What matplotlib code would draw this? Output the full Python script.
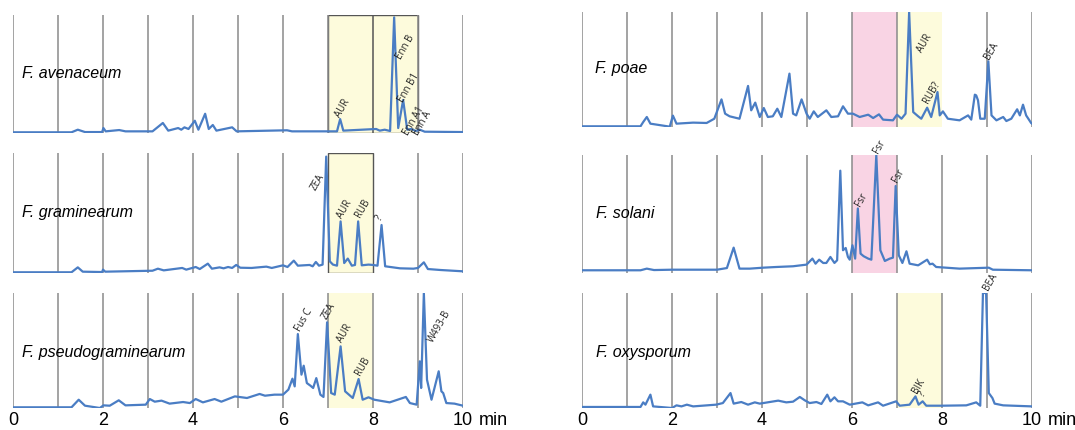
import matplotlib
matplotlib.use('Agg')
import matplotlib.pyplot as plt
from matplotlib.patches import Rectangle

# chromatogram traces: (retention time in min, relative intensity in % of panel height)
avenaceum = [(0, 0.6), (1.3, 0.6), (1.44, 2.8), (1.6, 0.8), (1.98, 0.8), (2.01, 4.2), (2.06, 1.4),
             (2.36, 2.5), (2.5, 1.4), (3.1, 1.4), (3.33, 8.5), (3.45, 2), (3.67, 4.2), (3.74, 2.8),
             (3.81, 4.8), (3.9, 3.4), (4.04, 10.4), (4.12, 2.8), (4.27, 16.3), (4.35, 3.4), (4.44, 6.8),
             (4.52, 2), (4.87, 4.8), (4.97, 1.4), (6.09, 2.3), (6.2, 1.4), (7.2, 1.4), (7.27, 11.8),
             (7.34, 2), (8.07, 3.4), (8.15, 2), (8.26, 2.8), (8.38, 1.7), (8.47, 98), (8.56, 4.2),
             (8.67, 28), (8.76, 2.8), (8.85, 3.4), (8.95, 1.7), (9.04, 2.8), (9.15, 1.1), (10, 0.8)]

graminearum = [(0, 0.6), (1.3, 0.6), (1.44, 4.7), (1.55, 1.1), (1.98, 0.8), (2.0, 2.8), (2.05, 1.1),
               (3.1, 1.9), (3.22, 3.6), (3.35, 2.2), (3.76, 4.2), (3.85, 2.8), (4.06, 5), (4.15, 3.3),
               (4.33, 7.8), (4.42, 3.6), (4.59, 4.7), (4.68, 3.9), (4.78, 5), (4.87, 4.2), (4.96, 6.7),
               (5.05, 4.4), (5.3, 4.2), (5.63, 5.3), (5.75, 4.2), (6.0, 6.4), (6.1, 5), (6.24, 10.3),
               (6.33, 6.1), (6.59, 6.7), (6.66, 5.6), (6.73, 9.2), (6.8, 6.1), (6.88, 7), (6.96, 97),
               (7.04, 9.7), (7.11, 7), (7.2, 6.1), (7.28, 43), (7.36, 8.3), (7.44, 12), (7.53, 6.1),
               (7.6, 6.7), (7.67, 43), (7.75, 6.4), (7.9, 7), (8.0, 6.7), (8.1, 6.1), (8.19, 40),
               (8.27, 5.6), (8.6, 3.9), (8.9, 3.6), (9.0, 4.2), (9.13, 8.9), (9.22, 3.3), (9.5, 2.5),
               (10, 1.4)]

pseudograminearum = [(0, 0.6), (1.3, 0.6), (1.46, 7.2), (1.6, 2), (1.93, 0), (2.01, 2.3), (2.15, 2),
                     (2.35, 6.7), (2.5, 2.3), (2.95, 2.9), (3.04, 7.8), (3.15, 5.5), (3.3, 6.4),
                     (3.48, 3.8), (3.78, 5.2), (3.93, 4.3), (4.06, 7.8), (4.22, 4.9), (4.48, 7.8),
                     (4.63, 5.5), (4.93, 10.1), (5.2, 8.7), (5.48, 12.2), (5.6, 10.7), (5.81, 11.6),
                     (6.0, 11.6), (6.12, 16), (6.21, 25.5), (6.26, 18.8), (6.33, 64.3), (6.41, 29),
                     (6.46, 36.8), (6.53, 21.7), (6.61, 19.4), (6.67, 17.4), (6.74, 26), (6.83, 11.6),
                     (6.9, 9.6), (6.98, 74.5), (7.07, 13), (7.15, 11.6), (7.28, 53.6), (7.38, 14.5),
                     (7.55, 8.7), (7.68, 25.2), (7.77, 7.2), (7.9, 9.3), (8.03, 7.2), (8.37, 4.9),
                     (8.73, 9.6), (8.82, 4.3), (8.97, 2.9), (9.04, 40.6), (9.07, 17.4), (9.13, 100),
                     (9.2, 24.6), (9.3, 7.2), (9.46, 31.9), (9.52, 14.5), (9.56, 13), (9.63, 4.3),
                     (9.81, 3.8), (10, 2)]

poae = [(0, 0.6), (1.3, 0.6), (1.36, 4.3), (1.44, 8.7), (1.52, 2.9), (1.95, 0.3), (2.02, 9.9),
        (2.1, 2.9), (2.47, 3.8), (2.77, 3.5), (2.94, 7.2), (3.1, 24), (3.18, 11.6), (3.28, 9.3),
        (3.5, 7.2), (3.69, 35.7), (3.76, 14.5), (3.85, 21.2), (3.95, 8.7), (4.04, 16.5), (4.13, 8.7),
        (4.24, 9.3), (4.34, 15.9), (4.43, 8.7), (4.61, 46.4), (4.69, 11.6), (4.76, 10.1), (4.88, 24),
        (4.99, 11.6), (5.06, 7.2), (5.15, 13.6), (5.24, 8.7), (5.43, 14.5), (5.54, 8.7), (5.69, 9.3),
        (5.8, 18), (5.91, 11.6), (6.02, 11.6), (6.17, 8.7), (6.36, 10.7), (6.47, 7.8), (6.6, 11),
        (6.69, 6.4), (6.91, 5.8), (7.0, 10.7), (7.1, 7.2), (7.19, 11.6), (7.27, 100), (7.36, 13),
        (7.47, 9.3), (7.54, 7.2), (7.67, 16.8), (7.76, 8.7), (7.9, 30.4), (7.95, 10.1), (8.02, 13.6),
        (8.13, 7.2), (8.39, 5.8), (8.58, 10.1), (8.65, 6.4), (8.73, 28.1), (8.76, 27.5), (8.8, 23.2),
        (8.85, 7.2), (8.95, 7.2), (9.03, 57.1), (9.1, 10.1), (9.21, 5.8), (9.36, 8.7), (9.43, 5.2),
        (9.54, 7.2), (9.67, 15.4), (9.73, 10.1), (9.8, 19.4), (9.87, 10.1), (9.98, 3.5), (10, 2.9)]

solani = [(0, 2.3), (1.3, 2.3), (1.44, 3.7), (1.6, 2.5), (2.0, 2.8), (3.0, 2.8), (3.22, 4.2),
          (3.37, 21.5), (3.5, 3.7), (3.73, 3.7), (4.02, 4.5), (4.32, 5.1), (4.69, 5.7), (4.99, 7.1),
          (5.12, 12.2), (5.19, 7.9), (5.27, 11.3), (5.36, 8.5), (5.43, 8.5), (5.52, 13.6), (5.61, 8.5),
          (5.67, 10.8), (5.74, 86.7), (5.8, 19.3), (5.86, 21.2), (5.91, 13.6), (5.95, 11.3),
          (6.01, 23.5), (6.07, 12.2), (6.13, 54.7), (6.19, 16.4), (6.26, 14.2), (6.36, 12.2),
          (6.43, 11.3), (6.54, 100), (6.63, 19.3), (6.73, 10.2), (6.84, 12.2), (6.91, 13),
          (6.97, 73.7), (7.04, 15), (7.12, 8.5), (7.21, 18.4), (7.28, 7.9), (7.47, 6.5), (7.67, 11.3),
          (7.73, 7.4), (7.79, 7.9), (7.87, 5.1), (8.39, 3.7), (9.04, 4.5), (9.13, 2.8), (10, 2.3)]

oxysporum = [(0, 0.9), (1.3, 0.9), (1.36, 4.9), (1.41, 2.9), (1.52, 11.6), (1.58, 1.4), (2.0, 0),
             (2.1, 2.3), (2.21, 1.4), (2.33, 2.9), (2.47, 1.4), (2.98, 2.9), (3.13, 4.3), (3.3, 13),
             (3.37, 3.8), (3.54, 5.2), (3.69, 2.9), (3.84, 4.9), (3.95, 3.8), (4.36, 6.4), (4.54, 4.9),
             (4.69, 5.5), (4.84, 9.6), (4.95, 6.7), (5.06, 4.3), (5.21, 5.2), (5.32, 3.5), (5.45, 11.6),
             (5.52, 5.8), (5.61, 9.3), (5.69, 5.8), (5.8, 5.8), (5.95, 2.9), (6.23, 4.9), (6.36, 2.3),
             (6.58, 4.9), (6.69, 2), (6.98, 5.8), (7.06, 2), (7.28, 2.9), (7.41, 10.1), (7.48, 2.9),
             (7.57, 5.8), (7.65, 2), (8.0, 2), (8.54, 2.3), (8.76, 4.9), (8.85, 2), (8.91, 100),
             (8.98, 100), (9.04, 13), (9.12, 8.7), (9.17, 3.8), (9.36, 2.3), (10, 1.4)]

# peak annotations: (label, time, height)
avenaceum_peaks = [("AUR", 7.33, 21), ("Enn B", 8.73, 73), ("Enn B1", 8.8, 38),
                   ("Enn A1", 8.91, 10.5), ("Enn A", 9.09, 8.5)]
graminearum_peaks = [("ZEA", 6.78, 76), ("AUR", 7.36, 53), ("RUB", 7.78, 54), ("?", 8.15, 46)]
pseudograminearum_peaks = [("Fus C", 6.47, 76), ("ZEA", 7.02, 84), ("AUR", 7.38, 65),
                           ("RUB", 7.78, 36), ("W493-B", 9.47, 71)]
poae_peaks = [("AUR", 7.62, 73), ("RUB?", 7.78, 30), ("BEA", 9.09, 66)]
solani_peaks = [("Fsr", 6.2, 62), ("Fsr", 6.6, 107), ("Fsr", 7.02, 82)]
oxysporum_peaks = [("BIK", 7.47, 19), ("?", 7.58, 12), ("BEA", 9.07, 110)]

minutes = list(range(11))
tick_minutes = [0, 2, 4, 6, 8, 10]

YELLOW = '#fdfbdc'
PINK = '#f9d4e4'
BLUE = '#4a7dc4'
GREY = '#8a8a8a'

W, H = 1075, 430
fig = plt.figure(figsize=(W / 100, H / 100), dpi=100)

# name, trace, peaks, grid minutes, shaded boxes (start, end, colour, framed), axes box px, name pos px
panels = [
    ("F. avenaceum", avenaceum, avenaceum_peaks, minutes,
     [(7, 9, YELLOW, True)], (13, 15, 463, 133), (22, 74)),
    ("F. graminearum", graminearum, graminearum_peaks, [0, 1, 2, 3, 4, 5, 6, 9, 10],
     [(7, 8, YELLOW, True)], (13, 153, 463, 273), (22, 213)),
    ("F. pseudograminearum", pseudograminearum, pseudograminearum_peaks, minutes,
     [(7, 8, YELLOW, False)], (13, 293, 463, 408), (22, 352)),
    ("F. poae", poae, poae_peaks, [0, 1, 2, 3, 4, 5, 6, 7, 9, 10],
     [(6, 7, PINK, False), (7, 8, YELLOW, False)], (582, 12, 1032, 127), (595, 69)),
    ("F. solani", solani, solani_peaks, minutes,
     [(6, 7, PINK, False)], (582, 155, 1032, 273), (596, 213)),
    ("F. oxysporum", oxysporum, oxysporum_peaks, minutes,
     [(7, 8, YELLOW, False)], (582, 293, 1032, 408), (596, 353)),
]

for i, (name, trace, peaks, grid, boxes, (l, t, r, b), (nx, ny)) in enumerate(panels):
    ax = fig.add_axes([l / W, 1 - b / H, (r - l) / W, (b - t) / H])
    ax.set_facecolor('none')
    ax.set_xlim(0, 10)
    ax.set_ylim(0, 100)
    for s in ax.spines.values():
        s.set_visible(False)
    ax.set_yticks([])

    for x0, x1, col, framed in boxes:
        ax.add_patch(Rectangle((x0, 0), x1 - x0, 100, facecolor=col,
                               edgecolor='#555555' if framed else 'none', lw=1, zorder=0))
    for m in grid:
        ax.axvline(m, color='#555555' if (i == 0 and m == 8) else GREY, lw=1.1, zorder=1)

    xs, ys = zip(*trace)
    ax.plot(xs, ys, color=BLUE, lw=1.6, zorder=3)

    for lab, px, py in peaks:
        ax.text(px, py, lab, rotation=60, ha='center', va='center', fontsize=7,
                family='Open Sans', color='#222222', clip_on=False, zorder=4)

    fig.text(nx / W, 1 - ny / H, name, fontsize=11.5, style='italic',
             family='Liberation Sans', va='center', ha='left')

    if i in (2, 5):
        ax.set_xticks(tick_minutes)
        ax.set_xticklabels([str(m) for m in tick_minutes], family='Liberation Sans', fontsize=13)
        ax.tick_params(axis='x', length=0, pad=3)
        ax.annotate("min", xy=(10.34, 0), xycoords=('data', 'axes fraction'),
                    xytext=(0, -3), textcoords='offset points', fontsize=13,
                    family='Liberation Sans', ha='left', va='top', annotation_clip=False)
    else:
        ax.set_xticks([])

fig.savefig('out.png', dpi=100)
